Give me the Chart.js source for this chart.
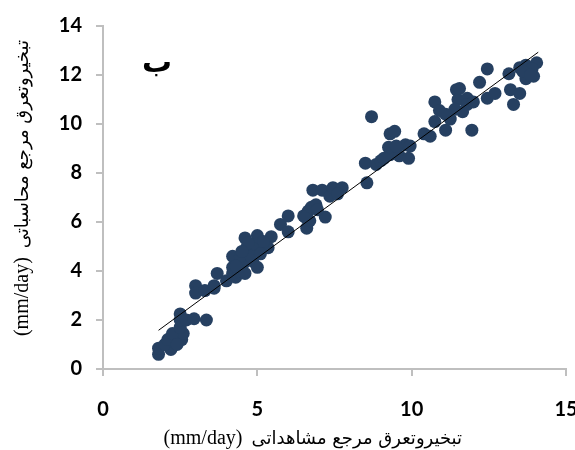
<!DOCTYPE html>
<html>
<head>
<meta charset="utf-8">
<script src="https://cdn.jsdelivr.net/npm/chart.js@4"></script>
<style>
  html, body { margin: 0; padding: 0; background: #fff; overflow: hidden; }
  canvas { display: block; }
</style>
</head>
<body>
<canvas id="chart" width="600" height="450"></canvas>
<script>
// observed (x) vs computed (y) reference ET, mm/day
const obsX = [1.8, 1.8, 2.2, 2.0, 2.3, 2.1, 2.4, 2.55, 2.6, 2.25, 2.5, 2.5, 2.5, 2.7, 2.95, 3.35, 2.4,
  3.0, 3.0, 3.3, 3.6, 3.7, 4.0, 4.3, 4.2, 3.6,
  4.2, 4.2, 4.6, 4.65, 5.0, 5.0, 4.85, 5.0, 4.55, 4.75, 5.35, 5.45, 5.75, 6.0, 6.0, 4.4, 4.6, 4.9, 4.45, 5.2, 4.7, 4.8, 4.3, 5.1, 4.5,
  6.5, 6.6, 6.65, 6.7, 6.55, 6.75, 6.9, 6.8, 7.1, 7.2, 7.35, 7.45, 7.75, 7.6, 6.95,
  8.5, 8.55, 8.7, 8.85, 9.0, 9.3, 9.3, 9.6, 9.8, 9.3, 9.45, 9.25, 9.5, 9.9, 9.95, 9.1,
  10.4, 10.6, 10.75, 10.75, 10.9, 11.1, 11.25, 11.45, 11.5, 11.55, 11.65, 11.8, 11.8, 11.95, 12.0, 12.2, 11.4, 11.1,
  12.45, 12.45, 12.7, 13.15, 13.2, 13.3, 13.5, 13.5, 13.7, 13.7, 13.7, 13.95, 14.05, 13.9, 13.6, 13.85]
const calcY = [0.6, 0.85, 0.8, 1.0, 1.1, 1.2, 1.4, 1.2, 1.45, 1.45, 1.7, 2.0, 2.25, 2.0, 2.05, 2.0, 1.0,
  3.4, 3.1, 3.2, 3.3, 3.9, 3.6, 3.75, 3.9, 3.4,
  4.15, 4.6, 5.35, 4.95, 5.45, 5.1, 4.4, 4.15, 4.3, 4.7, 4.95, 5.4, 5.9, 6.25, 5.6, 4.0, 3.9, 4.9, 4.6, 5.2, 5.15, 4.6, 4.2, 4.7, 4.8,
  6.25, 5.75, 6.45, 6.05, 6.2, 6.6, 6.7, 7.3, 7.3, 6.2, 7.05, 7.4, 7.4, 7.15, 6.5,
  8.4, 7.6, 10.3, 8.35, 8.5, 9.0, 8.75, 8.7, 9.15, 9.6, 9.7, 9.05, 9.1, 8.6, 9.1, 8.6,
  9.6, 9.5, 10.1, 10.9, 10.55, 9.75, 10.2, 11.4, 11.0, 11.45, 10.5, 11.05, 10.8, 9.75, 10.9, 11.7, 10.6, 10.4,
  12.25, 11.05, 11.25, 12.05, 11.4, 10.8, 11.25, 12.3, 12.05, 12.4, 11.85, 11.95, 12.5, 12.25, 12.15, 12.0]
// fitted line end points
const fitX = [1.8, 14.1]
const fitY = [1.58, 12.93]

const xTicks = [0, 5, 10, 15]
const yTicks = [0, 2, 4, 6, 8, 10, 12, 14]

const unitText = "(mm/day)"
const xTitleFa = "تبخیروتعرق مرجع مشاهداتی"
const yTitleFa = "تبخیروتعرق مرجع محاسباتی"
const panelLabel = "ب"

const axisGray = '#bfbfbf'
const tickFont = { family: 'Lato, "Open Sans", sans-serif', size: 20, weight: 'bold' }
const faFont = '18px "DejaVu Sans", sans-serif'
const unitFont = '20px "Liberation Serif", serif'

// draws "unit  arabic" as one line ending (right side) at x=0
function drawTitle(ctx, fa, gap) {
  ctx.font = faFont
  ctx.textAlign = 'right'
  ctx.fillText(fa, 0, 0)
  const w = ctx.measureText(fa).width
  ctx.font = unitFont
  ctx.fillText(unitText, -w - gap, 0)
}

const textPlugin = {
  id: 'texts',
  afterDraw(chart) {
    const ctx = chart.ctx
    ctx.save()
    ctx.fillStyle = '#000'
    ctx.textBaseline = 'alphabetic'
    ctx.save()
    ctx.translate(462, 444)
    drawTitle(ctx, xTitleFa, 9)
    ctx.restore()
    ctx.save()
    ctx.translate(28, 40)
    ctx.rotate(-Math.PI / 2)
    drawTitle(ctx, yTitleFa, 9)
    ctx.restore()
    ctx.restore()

    ctx.save()
    ctx.fillStyle = '#000'
    ctx.font = 'bold 30px "DejaVu Sans", sans-serif'
    ctx.textAlign = 'center'
    ctx.textBaseline = 'middle'
    ctx.fillText(panelLabel, 157, 64)
    ctx.restore()
  }
}

new Chart(document.getElementById('chart'), {
  type: 'scatter',
  data: {
    datasets: [{
      data: obsX.map((x, i) => ({ x: x, y: calcY[i] })),
      backgroundColor: '#264061',
      borderColor: '#264061',
      borderWidth: 0,
      pointRadius: 6.5,
      order: 2
    }, {
      type: 'line',
      data: fitX.map((x, i) => ({ x: x, y: fitY[i] })),
      borderColor: '#000',
      borderWidth: 1,
      pointRadius: 0,
      fill: false,
      order: 1
    }]
  },
  options: {
    responsive: false,
    animation: false,
    devicePixelRatio: 1,
    layout: { padding: { left: 0, top: 23, right: 34, bottom: 0 } },
    plugins: { legend: { display: false }, tooltip: { enabled: false } },
    scales: {
      x: {
        type: 'linear',
        min: 0, max: 15,
        afterBuildTicks: s => { s.ticks = xTicks.map(v => ({ value: v })) },
        afterFit: s => { s.height = 81 },
        grid: { drawOnChartArea: false, color: axisGray, lineWidth: 2, tickLength: 7 },
        border: { color: axisGray, width: 2 },
        ticks: { color: '#000', font: tickFont, padding: 22, maxRotation: 0 }
      },
      y: {
        type: 'linear',
        min: 0, max: 14,
        afterBuildTicks: s => { s.ticks = yTicks.map(v => ({ value: v })) },
        afterFit: s => { s.width = 103 },
        grid: { drawOnChartArea: false, color: axisGray, lineWidth: 2, tickLength: 7 },
        border: { color: axisGray, width: 2 },
        ticks: { color: '#000', font: tickFont, padding: 14 }
      }
    }
  },
  plugins: [textPlugin]
})
</script>
</body>
</html>
